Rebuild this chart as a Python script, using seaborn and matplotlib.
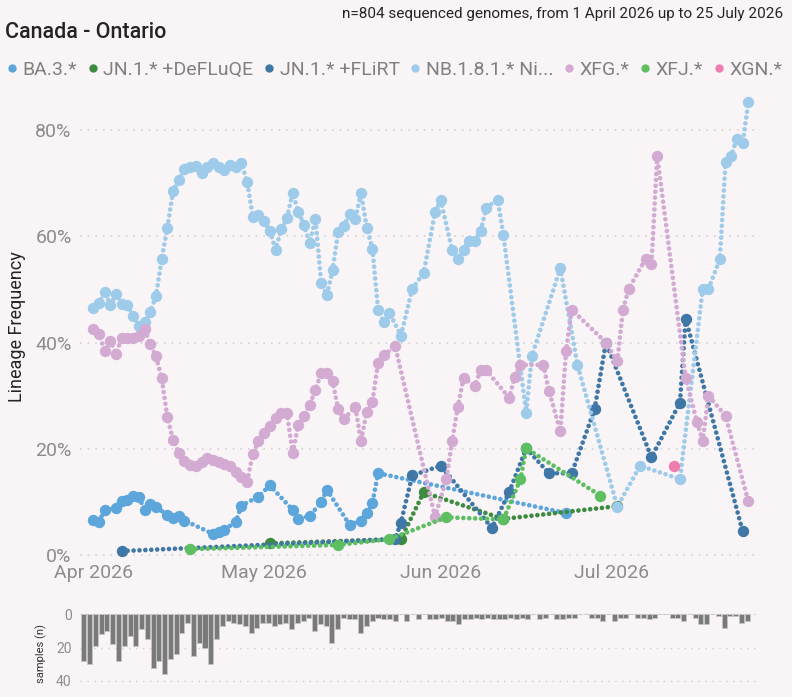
"""Lineage frequency chart for Canada - Ontario, with daily sample counts below."""

import matplotlib

matplotlib.use("Agg")

import matplotlib.dates as mdates
import matplotlib.pyplot as plt
import pandas as pd
import seaborn as sns
from matplotlib.lines import Line2D
from matplotlib.ticker import PercentFormatter

START = pd.Timestamp("2026-04-01")

# days since 1 April 2026 and lineage frequency in percent
ba3_days = [0, 1, 2, 4, 5, 6, 7, 8, 9, 10, 11, 13, 14, 15, 16, 21, 22, 23, 25, 26,
            29, 31, 35, 36, 38, 40, 41, 45, 47, 48, 49, 50, 83]
ba3_vals = [6.6, 6.3, 8.5, 8.8, 10.1, 10.4, 11.2, 11.0, 8.5, 9.6, 9.1, 7.5, 7.0, 7.4, 6.5,
            4.0, 4.4, 4.8, 6.2, 9.3, 11.0, 13.1, 8.5, 6.7, 7.4, 9.9, 12.3, 5.7, 6.4, 7.9,
            9.8, 15.4, 7.9]

defluqe_days = [31, 54, 58, 72, 92]
defluqe_vals = [2.2, 3.0, 11.8, 6.8, 9.2]

flirt_days = [5, 53, 54, 56, 61, 70, 73, 76, 80, 84, 88, 90, 98, 103, 104, 114]
flirt_vals = [0.75, 3.0, 6.1, 15.0, 16.8, 5.1, 11.8, 20.1, 15.4, 15.4, 27.4, 40.0, 18.4,
              28.7, 44.5, 4.5]

nb_days = [0, 1, 2, 3, 4, 5, 6, 7, 8, 9,
           10, 11, 12, 13, 14, 15, 16, 17, 18, 19,
           20, 21, 22, 23, 24, 25, 26, 27, 28, 29,
           30, 31, 32, 33, 34, 35, 36, 37, 38, 39,
           40, 41, 42, 43, 44, 45, 46, 47, 48, 49,
           50, 51, 52, 54, 56, 58, 60, 61, 63, 64,
           65, 66, 67, 68, 69, 71, 72, 76, 77, 82,
           85, 92, 96, 103, 107, 108, 110, 111, 112, 113,
           114, 115]
nb_vals = [46.5, 47.5, 49.6, 47.0, 49.2, 47.3, 47.0, 45.0, 43.1, 43.8,
           45.8, 48.7, 55.7, 61.6, 68.5, 70.6, 72.6, 73.0, 73.3, 71.9,
           73.1, 73.8, 73.0, 72.5, 73.4, 73.0, 73.8, 70.3, 63.7, 64.0,
           62.8, 61.0, 57.5, 61.3, 63.4, 68.2, 64.6, 62.1, 58.7, 63.3,
           51.3, 48.9, 53.6, 60.9, 61.9, 64.2, 63.2, 68.2, 61.6, 57.7,
           46.2, 43.8, 45.6, 41.3, 50.1, 53.1, 64.5, 66.8, 57.4, 55.8,
           57.4, 59.2, 59.2, 61.0, 65.4, 66.9, 60.2, 26.8, 37.5, 54.0,
           35.8, 9.1, 16.8, 14.3, 50.1, 50.1, 55.7, 74.0, 75.2, 78.4,
           77.5, 85.2]

xfg_days = [0, 1, 2, 3, 4, 5, 6, 7, 8, 9,
            10, 11, 12, 13, 14, 15, 16, 17, 18, 19,
            20, 21, 22, 23, 24, 25, 26, 27, 28, 29,
            30, 31, 32, 33, 34, 35, 36, 37, 38, 39,
            40, 41, 42, 43, 44, 46, 47, 48, 49, 50,
            51, 53, 60, 62, 63, 64, 65, 67, 68, 69,
            73, 74, 75, 79, 80, 82, 83, 84, 90, 92,
            93, 94, 97, 98, 99, 104, 106, 107, 108, 111,
            115]
xfg_vals = [42.6, 41.6, 38.4, 40.2, 37.9, 40.9, 40.9, 40.9, 41.2, 42.5,
            39.8, 37.4, 33.3, 26.0, 21.7, 19.3, 17.7, 17.0, 16.7, 17.6,
            18.2, 17.9, 17.5, 17.1, 16.8, 15.6, 14.7, 13.8, 19.0, 21.5,
            23.0, 24.3, 25.8, 26.7, 26.7, 19.2, 24.5, 26.2, 28.3, 31.1,
            34.3, 34.3, 32.7, 27.5, 25.6, 27.9, 21.4, 27.0, 28.9, 36.2,
            37.6, 39.3, 7.2, 14.3, 21.5, 27.9, 33.3, 31.9, 34.8, 34.8,
            29.6, 33.5, 35.8, 35.8, 30.9, 23.3, 38.5, 46.2, 40.0, 36.5,
            46.2, 50.1, 55.8, 54.7, 75.2, 33.3, 25.0, 21.5, 30.0, 26.2,
            10.1]

xfj_days = [17, 43, 52, 62, 72, 75, 76, 89]
xfj_vals = [1.1, 1.9, 3.0, 7.1, 6.7, 14.3, 20.1, 11.2]

xgn_days = [102]
xgn_vals = [16.8]

lineages = ["BA.3.*", "JN.1.* +DeFLuQE", "JN.1.* +FLiRT", "NB.1.8.1.* Ni...",
            "XFG.*", "XFJ.*", "XGN.*"]
colors = ["#5ca6dc", "#3d8b41", "#3f77a6", "#9fcbea", "#d3aad2", "#5dbf62", "#f07cae"]

# daily number of sequenced samples, 1 April to 25 July
samples = [28, 30, 19, 12, 10, 18, 28, 19, 13, 19,
           9, 15, 32, 28, 36, 27, 24, 11, 5, 25,
           17, 20, 30, 15, 7, 4, 5, 6, 7, 11,
           8, 5, 5, 7, 6, 5, 9, 5, 4, 2,
           10, 6, 7, 17, 9, 2, 3, 3, 11, 7,
           4, 2, 3, 3, 4, 0, 4, 0, 3, 0,
           3, 3, 2, 4, 4, 6, 3, 3, 2, 3,
           2, 3, 3, 3, 2, 3, 2, 3, 0, 3,
           2, 0, 3, 3, 2, 2, 0, 0, 2, 2,
           4, 0, 4, 2, 2, 0, 2, 2, 3, 2,
           0, 0, 2, 2, 4, 0, 2, 6, 6, 0,
           1, 8, 1, 1, 5, 4]

BG = "#f9f5f7"
GRID = "#cdcdcd"
TICK = "#8c8c8c"

plt.rcParams["font.family"] = ["Roboto", "DejaVu Sans"]

series_days = [ba3_days, defluqe_days, flirt_days, nb_days, xfg_days, xfj_days, xgn_days]
series_vals = [ba3_vals, defluqe_vals, flirt_vals, nb_vals, xfg_vals, xfj_vals, xgn_vals]
frames = []
for name, days, vals in zip(lineages, series_days, series_vals):
    frames.append(pd.DataFrame({
        "lineage": name,
        "date": START + pd.to_timedelta(days, unit="D"),
        "freq": vals,
    }))
freq_df = pd.concat(frames, ignore_index=True)

W, H = 792, 697
fig = plt.figure(figsize=(W / 100, H / 100), dpi=100, facecolor=BG)

# main axes: pixel box x 80..760, y 95..563
ax = fig.add_axes([80 / W, 1 - 563 / H, 680 / W, 468 / H], facecolor=BG)
sns.lineplot(
    data=freq_df, x="date", y="freq", hue="lineage", hue_order=lineages,
    palette=dict(zip(lineages, colors)), estimator=None, sort=True,
    marker="o", markersize=8.2, markeredgewidth=0,
    linewidth=3.4, linestyle=(0, (0.001, 1.25)), dash_capstyle="round",
    legend=False, ax=ax,
)
ax.set_xlim(START - pd.Timedelta(days=2.335), START + pd.Timedelta(days=117.05))
ax.set_ylim(-1.5, 86.6)
ax.set_yticks([0, 20, 40, 60, 80])
ax.yaxis.set_major_formatter(PercentFormatter(decimals=0))
ax.xaxis.set_major_locator(mdates.MonthLocator())
ax.xaxis.set_major_formatter(mdates.DateFormatter("%b %Y"))
ax.grid(axis="y", color=GRID, linestyle=(0, (1, 4)), linewidth=1.1)
ax.grid(axis="x", visible=False)
ax.set_axisbelow(True)
ax.tick_params(axis="both", length=0, labelsize=14, labelcolor=TICK)
ax.tick_params(axis="y", pad=6)
ax.tick_params(axis="x", pad=1)
ax.set_xlabel("")
ax.set_ylabel("Lineage Frequency", fontsize=13, color="#252423")
ax.yaxis.set_label_coords(-0.080, 0.506)
for spine in ax.spines.values():
    spine.set_visible(False)

# samples axes: pixel box x 80..760, y 610..690, inverted counts
ax2 = fig.add_axes([80 / W, 1 - 690 / H, 680 / W, 80 / H], facecolor=BG)
sns.barplot(x=list(range(len(samples))), y=samples, color="#7a7a7a", saturation=1,
            width=0.87, edgecolor="#c6c6c6", linewidth=0.6, ax=ax2)
ax2.set_xlim(-0.676, 117.24)
ax2.set_ylim(45.4, -2.6)
ax2.set_yticks([0, 20, 40])
ax2.set_xticks([])
ax2.grid(axis="y", color=GRID, linestyle=(0, (1, 4)), linewidth=1.0)
ax2.set_axisbelow(True)
ax2.tick_params(axis="y", length=0, labelsize=10, labelcolor=TICK, pad=6)
ax2.set_xlabel("")
ax2.set_ylabel("samples (n)", fontsize=8, color="#333333")
ax2.yaxis.set_label_coords(-0.048, 0.46)
for spine in ax2.spines.values():
    spine.set_visible(False)

fig.text(5 / W, 1 - 33 / H, "Canada - Ontario", fontsize=15.5, fontweight="medium",
         color="#252423", ha="left", va="center")
fig.text(783 / W, 1 - 14 / H, "n=804 sequenced genomes, from 1 April 2026 up to 25 July 2026",
         fontsize=11, color="#252423", ha="right", va="center")

handles = [Line2D([], [], marker="o", linestyle="none", color=c, markersize=6,
                  markeredgewidth=0) for c in colors]
fig.legend(handles, lineages, loc="center left", bbox_to_anchor=(6 / W, 1 - 70 / H),
           ncol=len(lineages), frameon=False, handlelength=0.6, handletextpad=0.25,
           columnspacing=0.5, borderaxespad=0, borderpad=0, fontsize=14,
           labelcolor="#808080")

fig.savefig("out.png", dpi=100, facecolor=BG)
